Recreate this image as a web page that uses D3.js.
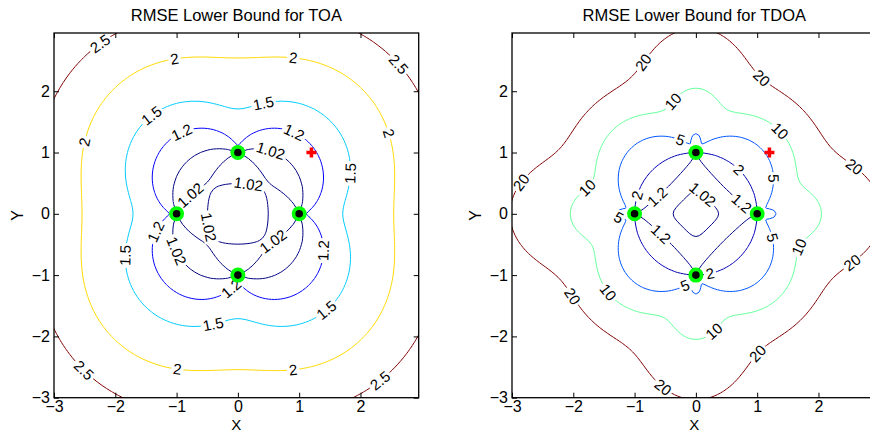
<!DOCTYPE html>
<html>
  <head>
    <meta charset="utf-8" />
    <title>RMSE Lower Bound for TOA / TDOA</title>
    <script src="https://d3js.org/d3.v7.min.js"></script>
    <style>
      body { margin: 0; background: #fff; }
      svg text { font-family: "Liberation Sans", Arial, sans-serif; }
    </style>
  </head>
  <body>
    <svg id="chart" width="870" height="433"></svg>
    <script>
      // anchors (green) and the target (red plus)
      const anchorX = [1, 0, -1, 0];
      const anchorY = [0, 1, 0, -1];
      const targetX = [1.2];
      const targetY = [1];

      const xTicks = [-3, -2, -1, 0, 1, 2];
      const yTicks = [-3, -2, -1, 0, 1, 2];

      const toaLevels = [1.02, 1.2, 1.5, 2, 2.5];
      const tdoaLevels = [1.02, 1.2, 2, 5, 10, 20];

      // contour label spots: [level, x, y]
      const toaLabels = [
        [2.5, -2.25, 2.78], [2, -1.03, 2.5], [2, 0.9, 2.5], [2.5, 2.6, 2.42],
        [2, -2.49, 1.17], [2, 2.45, 1.31], [1.5, -1.4, 1.59], [1.5, 0.44, 1.7],
        [1.2, -0.9, 1.29], [1.2, 0.9, 1.29], [1.02, 0.52, 0.98], [1.02, 0.165, 0.43],
        [1.02, -0.8, 0.33], [1.02, -0.49, -0.22], [1.2, -1.32, -0.3], [1.02, -0.99, -0.6],
        [1.02, 0.57, -0.44], [1.5, 1.83, 0.66], [1.2, 1.37, -0.6], [1.2, -0.08, -1.25],
        [1.5, -1.79, -0.68], [1.5, 1.45, -1.58], [1.5, -0.4, -1.82], [2, -0.99, -2.55],
        [2, 0.9, -2.55], [2.5, -2.54, -2.58], [2.5, 2.32, -2.72]
      ];
      const tdoaLabels = [
        [20, -0.83, 2.45], [20, 1.05, 2.19], [10, -0.39, 1.85], [10, 1.34, 1.32],
        [20, 2.6, 0.79], [5, -0.26, 1.19], [2, 0.69, 0.71], [5, 1.21, 0.58],
        [1.2, -0.62, 0.27], [2, -0.95, 0.3], [1.02, 0.07, 0.27], [1.2, 0.72, 0.14],
        [5, -1.27, -0.08], [1.2, -0.59, -0.35], [5, 1.24, -0.39], [10, -1.76, 0.41],
        [10, 1.7, -0.55], [2, 0.23, -0.97], [5, -0.15, -1.22], [10, -1.43, -1.28],
        [20, -2.05, -1.37], [10, 0.28, -1.9], [20, -0.55, -2.85], [20, 1.01, -2.28],
        [20, 2.56, -0.81], [20, -2.82, 0.49]
      ];

      const svg = d3.select("#chart");
      const defs = svg.append("defs");
      const axTop = 33;
      const size = 364.7;
      const domain = [-3, 2.95];
      const gridMin = -3.1;
      const gridStep = 0.05;
      const n = 125;

      // Cramer-Rao bound (sigma = 1) for range measurements to the anchors;
      // tdoa removes the common clock offset
      function bound(px, py, tdoa) {
        let a = 0, b = 0, c = 0, sx = 0, sy = 0, k = 0;
        anchorX.forEach((ax, i) => {
          const dx = px - ax, dy = py - anchorY[i], d = Math.hypot(dx, dy);
          if (d < 1e-9) return;
          const ux = dx / d, uy = dy / d;
          a += ux * ux; b += ux * uy; c += uy * uy;
          sx += ux; sy += uy; k++;
        });
        if (tdoa) {
          a -= (sx * sx) / k; b -= (sx * sy) / k; c -= (sy * sy) / k;
        }
        return Math.sqrt((a + c) / (a * c - b * b));
      }

      function jet(t) {
        const c = (v) => 255 * Math.max(0, Math.min(1, 1.5 - Math.abs(v)));
        return d3.rgb(c(4 * t - 3), c(4 * t - 2), c(4 * t - 1)).formatHex();
      }

      function drawPanel(left, title, levels, labels, tdoa, id) {
        const x = d3.scaleLinear().domain(domain).range([left, left + size]);
        const y = d3.scaleLinear().domain(domain).range([axTop + size, axTop]);
        const color = d3.scaleLinear().domain(d3.extent(levels)).range([0, 1]);

        const gridVal = (i) => Math.round((gridMin + gridStep * i) * 100) / 100;
        const values = new Array(n * n);
        for (let j = 0; j < n; j++)
          for (let i = 0; i < n; i++)
            values[j * n + i] = bound(gridVal(i), gridVal(j), tdoa);

        const toData = (c) => gridMin + gridStep * (c - 0.5);
        const proj = d3.geoTransform({
          point(px, py) { this.stream.point(x(toData(px)), y(toData(py))); }
        });
        const path = d3.geoPath(proj);
        const contours = d3.contours().size([n, n]).thresholds(levels)(values);

        defs.append("clipPath").attr("id", id + "-clip")
          .append("rect").attr("x", left).attr("y", axTop)
          .attr("width", size).attr("height", size);

        const g = svg.append("g");
        const lines = g.append("g").attr("clip-path", `url(#${id}-clip)`);
        const masks = {};
        contours.forEach((ct, li) => {
          const m = defs.append("mask").attr("id", `${id}-mask-${li}`)
            .attr("maskUnits", "userSpaceOnUse")
            .attr("x", 0).attr("y", 0).attr("width", 900).attr("height", 450);
          m.append("rect").attr("width", 900).attr("height", 450).attr("fill", "#fff");
          masks[ct.value] = m;
          lines.append("path")
            .attr("d", path(ct))
            .attr("fill", "none")
            .attr("stroke", jet(color(ct.value)))
            .attr("stroke-width", 1)
            .attr("mask", `url(#${id}-mask-${li})`);
        });

        // contour labels, set inline on the nearest contour point
        const inside = (p) => p[0] >= left && p[0] <= left + size && p[1] >= axTop && p[1] <= axTop + size;
        const labelG = g.append("g");
        labels.forEach(([lv, lx, ly]) => {
          const ct = contours.find((c) => c.value === lv);
          const target = [x(lx), y(ly)];
          let best = null, bd = Infinity;
          ct.coordinates.forEach((poly) => poly.forEach((ring) => {
            const pts = ring.map((p) => [x(toData(p[0])), y(toData(p[1]))]);
            for (let k = 1; k < pts.length; k++) {
              const a = pts[k - 1], b = pts[k];
              if (!inside(a) || !inside(b)) continue;
              const vx = b[0] - a[0], vy = b[1] - a[1], L = vx * vx + vy * vy;
              let t = L ? ((target[0] - a[0]) * vx + (target[1] - a[1]) * vy) / L : 0;
              t = Math.max(0, Math.min(1, t));
              const qx = a[0] + t * vx, qy = a[1] + t * vy;
              const d = (qx - target[0]) ** 2 + (qy - target[1]) ** 2;
              if (d < bd) {
                bd = d;
                const p0 = pts[Math.max(k - 3, 0)], p1 = pts[Math.min(k + 2, pts.length - 1)];
                best = { x: qx, y: qy, ang: Math.atan2(p1[1] - p0[1], p1[0] - p0[0]) };
              }
            }
          }));
          if (!best) return;
          let deg = (best.ang * 180) / Math.PI;
          if (deg > 90) deg -= 180;
          if (deg < -90) deg += 180;
          const tr = `translate(${best.x},${best.y}) rotate(${deg})`;
          const txt = labelG.append("text")
            .attr("transform", tr)
            .attr("text-anchor", "middle")
            .attr("dy", "0.35em")
            .style("font-size", "15px")
            .text(String(lv));
          const w = txt.node().getComputedTextLength();
          masks[lv].append("rect")
            .attr("transform", tr)
            .attr("x", -w / 2 - 2).attr("y", -7)
            .attr("width", w + 4).attr("height", 14)
            .attr("fill", "#000");
        });

        // anchors and target
        const marks = g.append("g");
        anchorX.forEach((ax, i) => {
          marks.append("circle").attr("cx", x(ax)).attr("cy", y(anchorY[i]))
            .attr("r", 7.5).attr("fill", "#00ff00");
          marks.append("circle").attr("cx", x(ax)).attr("cy", y(anchorY[i]))
            .attr("r", 3.8).attr("fill", "#000");
        });
        targetX.forEach((tx, i) => {
          marks.append("path")
            .attr("d", `M${x(tx) - 5},${y(targetY[i])}H${x(tx) + 5}M${x(tx)},${y(targetY[i]) - 5}V${y(targetY[i]) + 5}`)
            .attr("stroke", "#ff0000").attr("stroke-width", 3.5);
        });

        // axes with inward ticks on all four sides
        const fmt = d3.format("d");
        const style = (sel) => {
          sel.select(".domain").remove();
          sel.selectAll("text").attr("font-size", null).attr("font-family", null)
            .style("font-size", "16px").attr("fill", "#000");
          sel.selectAll("line").attr("stroke", "#000");
        };
        g.append("g").attr("transform", `translate(0,${axTop + size})`)
          .call(d3.axisBottom(x).tickValues(xTicks).tickSize(-5).tickPadding(3).tickFormat(fmt)).call(style);
        g.append("g").attr("transform", `translate(0,${axTop})`)
          .call(d3.axisTop(x).tickValues(xTicks).tickSize(-5).tickFormat("")).call(style);
        g.append("g").attr("transform", `translate(${left},0)`)
          .call(d3.axisLeft(y).tickValues(yTicks).tickSize(-5).tickPadding(4).tickFormat(fmt)).call(style);
        g.append("g").attr("transform", `translate(${left + size},0)`)
          .call(d3.axisRight(y).tickValues(yTicks).tickSize(-5).tickFormat("")).call(style);
        g.append("rect").attr("x", left).attr("y", axTop)
          .attr("width", size).attr("height", size)
          .attr("fill", "none").attr("stroke", "#000").attr("stroke-width", 1.3);

        g.append("text").attr("x", left + size / 2).attr("y", 21)
          .attr("text-anchor", "middle").style("font-size", "16.5px").text(title);
        g.append("text").attr("x", left + size / 2).attr("y", 429.5)
          .attr("text-anchor", "middle").style("font-size", "15px").text("X");
        g.append("text").attr("transform", `translate(${left - 31},${axTop + size / 2}) rotate(-90)`)
          .attr("text-anchor", "middle").style("font-size", "16px").text("Y");
      }

      drawPanel(54, "RMSE Lower Bound for TOA", toaLevels, toaLabels, false, "toa");
      drawPanel(512, "RMSE Lower Bound for TDOA", tdoaLevels, tdoaLabels, true, "tdoa");
    </script>
  </body>
</html>
